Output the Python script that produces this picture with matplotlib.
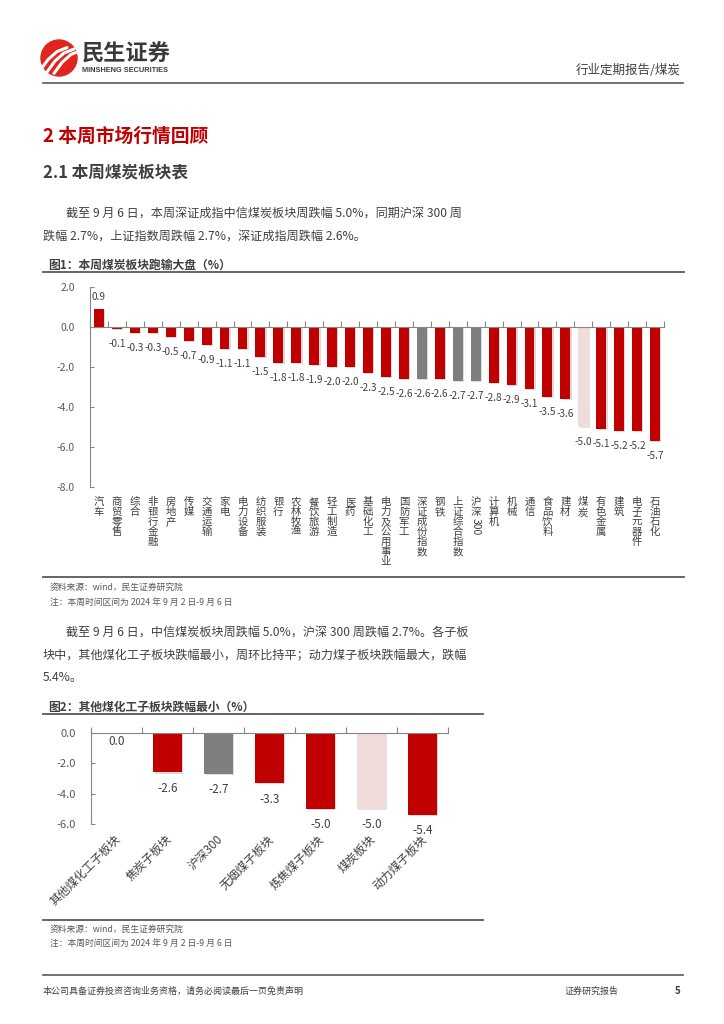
import matplotlib
matplotlib.use('Agg')
import matplotlib.pyplot as plt
import matplotlib.patches as mpatches
import matplotlib.transforms as mtrans
import matplotlib.patheffects as pe
import numpy as np

plt.rcParams['font.family'] = ['Noto Sans CJK SC', 'DejaVu Sans']
plt.rcParams['axes.unicode_minus'] = False

# ---- data: figure 1 (weekly change by sector, %)
sectors = ['汽车', '商贸零售', '综合', '非银行金融', '房地产', '传媒', '交通运输', '家电',
           '电力设备', '纺织服装', '银行', '农林牧渔', '餐饮旅游', '轻工制造', '医药',
           '基础化工', '电力及公用事业', '国防军工', '深证成份指数', '钢铁', '上证综合指数',
           '沪深300', '计算机', '机械', '通信', '食品饮料', '建材', '煤炭', '有色金属',
           '建筑', '电子元器件', '石油石化']
weekly_chg = [0.9, -0.1, -0.3, -0.3, -0.5, -0.7, -0.9, -1.1, -1.1, -1.5, -1.8, -1.8,
              -1.9, -2.0, -2.0, -2.3, -2.5, -2.6, -2.6, -2.6, -2.7, -2.7, -2.8, -2.9,
              -3.1, -3.5, -3.6, -5.0, -5.1, -5.2, -5.2, -5.7]

# ---- data: figure 2 (coal sub-sectors, %)
sub_names = ['其他煤化工子板块', '焦炭子板块', '沪深300', '无烟煤子板块', '炼焦煤子板块',
             '煤炭板块', '动力煤子板块']
sub_chg = [0.0, -2.6, -2.7, -3.3, -5.0, -5.0, -5.4]

index_names = ['深证成份指数', '上证综合指数', '沪深300']
coal_names = ['煤炭', '煤炭板块']

RED = '#C00000'
GRAY = '#7F7F7F'
PINK = '#F2DCDB'
AXC = '#868686'
TXT = '#404040'


def bar_color(name):
    if name in index_names:
        return GRAY
    if name in coal_names:
        return PINK
    return RED


shadow = [pe.SimplePatchShadow(offset=(1, -1), alpha=0.15), pe.Normal()]

fig = plt.figure(figsize=(7.24, 10.24), dpi=100)

# page layer in pixel coordinates
page = fig.add_axes([0, 0, 1, 1])
page.set_xlim(0, 724)
page.set_ylim(1024, 0)
page.axis('off')

# header: logo
page.add_patch(mpatches.Circle((59, 58), 18, color='#E0251F'))
for dx in (-7, 0, 7):
    xs = np.array([47, 55, 64, 74]) + dx
    ys = np.array([72, 61, 53, 49]) + dx * 0.2
    page.plot(xs, ys, color='white', lw=2.2, solid_capstyle='round')
page.text(82, 54, '民生证券', fontsize=16, fontweight='bold', color='#3A3A3A', va='center')
page.text(82, 71, 'MINSHENG SECURITIES', fontsize=5.3, fontweight='bold', color='#3A3A3A',
          va='center', family=['Liberation Sans', 'DejaVu Sans'])
page.text(681, 70, '行业定期报告/煤炭', fontsize=9, color=TXT, ha='right', va='center')
page.plot([43, 683], [83, 83], color='#595959', lw=1.2)

# headings and paragraphs
page.text(43, 136, '2 本周市场行情回顾', fontsize=13.5, fontweight='bold', color=RED, va='center')
page.text(43, 172, '2.1 本周煤炭板块表', fontsize=12, fontweight='bold', color=TXT, va='center')
p1 = ['截至 9 月 6 日，本周深证成指中信煤炭板块周跌幅 5.0%，同期沪深 300 周',
      '跌幅 2.7%，上证指数周跌幅 2.7%，深证成指周跌幅 2.6%。']
page.text(66, 213, p1[0], fontsize=8.7, color=TXT, va='center')
page.text(43, 236, p1[1], fontsize=8.7, color=TXT, va='center')

p2 = ['截至 9 月 6 日，中信煤炭板块周跌幅 5.0%，沪深 300 周跌幅 2.7%。各子板',
      '块中，其他煤化工子板块跌幅最小，周环比持平；动力煤子板块跌幅最大，跌幅',
      '5.4%。']
page.text(66, 632, p2[0], fontsize=8.7, color=TXT, va='center')
page.text(43, 655, p2[1], fontsize=8.7, color=TXT, va='center')
page.text(43, 677, p2[2], fontsize=8.7, color=TXT, va='center')

# figure 1 frame
page.text(48, 265, '图1：本周煤炭板块跑输大盘（%）', fontsize=8.5, fontweight='bold', color=TXT, va='center')
page.plot([43, 684], [272, 272], color='#595959', lw=1.3)
page.plot([43, 684], [577, 577], color='#595959', lw=1.3)
page.text(50, 587, '资料来源：wind，民生证券研究院', fontsize=6.3, color='#595959', va='center')
page.text(50, 603, '注：本周时间区间为 2024 年 9 月 2 日-9 月 6 日', fontsize=6.3, color='#595959', va='center')

# figure 2 frame
page.text(48, 707, '图2：其他煤化工子板块跌幅最小（%）', fontsize=8.5, fontweight='bold', color=TXT, va='center')
page.plot([43, 483], [714, 714], color='#595959', lw=1.3)
page.plot([43, 483], [920, 920], color='#595959', lw=1.3)
page.text(50, 929, '资料来源：wind，民生证券研究院', fontsize=6.3, color='#595959', va='center')
page.text(50, 944, '注：本周时间区间为 2024 年 9 月 2 日-9 月 6 日', fontsize=6.3, color='#595959', va='center')

# footer
page.plot([43, 683], [975, 975], color='#595959', lw=1.2)
page.text(43, 991, '本公司具备证券投资咨询业务资格，请务必阅读最后一页免责声明', fontsize=6.5,
          color=TXT, va='center')
page.text(565, 991, '证券研究报告', fontsize=6.5, color=TXT, va='center')
page.text(681, 991, '5', fontsize=7, fontweight='bold', color=TXT, va='center', ha='right')

# ---- chart 1
ax1 = fig.add_axes([90 / 724, 1 - 487 / 1024, 574 / 724, 200 / 1024])
x1 = np.arange(len(sectors))
b1 = ax1.bar(x1, weekly_chg, width=0.55, color=[bar_color(n) for n in sectors], zorder=2)
for b in b1:
    b.set_path_effects(shadow)
ax1.set_xlim(-0.5, len(sectors) - 0.5)
ax1.set_ylim(-8, 2)
yt = np.arange(-8, 2.1, 2)
ax1.set_yticks(yt)
ax1.set_yticklabels([f'{v:.1f}' for v in yt])
ax1.set_xticks(np.arange(-0.5, len(sectors), 1))
ax1.set_xticklabels([])
for s in ('top', 'right'):
    ax1.spines[s].set_visible(False)
ax1.spines['bottom'].set_position(('data', 0))
ax1.spines['bottom'].set_color(AXC)
ax1.spines['left'].set_color(AXC)
ax1.tick_params(axis='x', direction='in', length=4, color=AXC)
ax1.tick_params(axis='y', direction='in', length=3, color=AXC, labelsize=7.5,
                labelcolor='#595959', pad=11)
ax1.patch.set_alpha(0)
tr1 = mtrans.blended_transform_factory(ax1.transData, ax1.transAxes)
for i, name in enumerate(sectors):
    cjk = name.rstrip('0123456789')
    digits = name[len(cjk):]
    t = ax1.text(i, -0.05, '\n'.join(cjk), transform=tr1, ha='center', va='top',
                 fontsize=7.5, linespacing=1.0, color=TXT)
    if digits:
        # latin digits run sideways in East Asian vertical text
        ax1.annotate(digits, xy=(0.5, 0), xycoords=t, xytext=(0, -0.5),
                     textcoords='offset points', rotation=270, ha='center', va='top',
                     fontsize=7.5, color=TXT)
for i, v in enumerate(weekly_chg):
    ax1.annotate(f'{v:.1f}', (i, v), xytext=(0, -11 if v < 0 else 9),
                 textcoords='offset points', ha='center', va='center', fontsize=7.2, color=TXT)

# ---- chart 2
ax2 = fig.add_axes([91 / 724, 1 - 824 / 1024, 357 / 724, 91 / 1024])
x2 = np.arange(len(sub_names))
b2 = ax2.bar(x2, sub_chg, width=0.55, color=[bar_color(n) for n in sub_names], zorder=2)
for b in b2:
    b.set_path_effects(shadow)
ax2.set_xlim(-0.5, len(sub_names) - 0.5)
ax2.set_ylim(-6, 0)
yt2 = np.arange(-6, 0.1, 2)
ax2.set_yticks(yt2)
ax2.set_yticklabels([f'{v:.1f}' for v in yt2])
ax2.set_xticks(np.arange(-0.5, len(sub_names), 1))
ax2.set_xticklabels([])
for s in ('top', 'right'):
    ax2.spines[s].set_visible(False)
ax2.spines['bottom'].set_position(('data', 0))
ax2.spines['bottom'].set_color(AXC)
ax2.spines['left'].set_color(AXC)
ax2.tick_params(axis='x', direction='in', length=4, color=AXC)
ax2.tick_params(axis='y', direction='in', length=3, color=AXC, labelsize=8,
                labelcolor='#595959', pad=11)
ax2.patch.set_alpha(0)
tr2 = mtrans.blended_transform_factory(ax2.transData, ax2.transAxes)
for i, name in enumerate(sub_names):
    ax2.text(i - 0.05, -0.1, name, transform=tr2, rotation=45, rotation_mode='anchor',
             ha='right', va='top', fontsize=8.5, color=TXT)
for i, v in enumerate(sub_chg):
    ax2.annotate(f'{v:.1f}', (i, v), xytext=(0, -6 if v == 0 else -11.5),
                 textcoords='offset points', ha='center', va='center', fontsize=8.5, color=TXT)

fig.savefig('out.png', dpi=100)
